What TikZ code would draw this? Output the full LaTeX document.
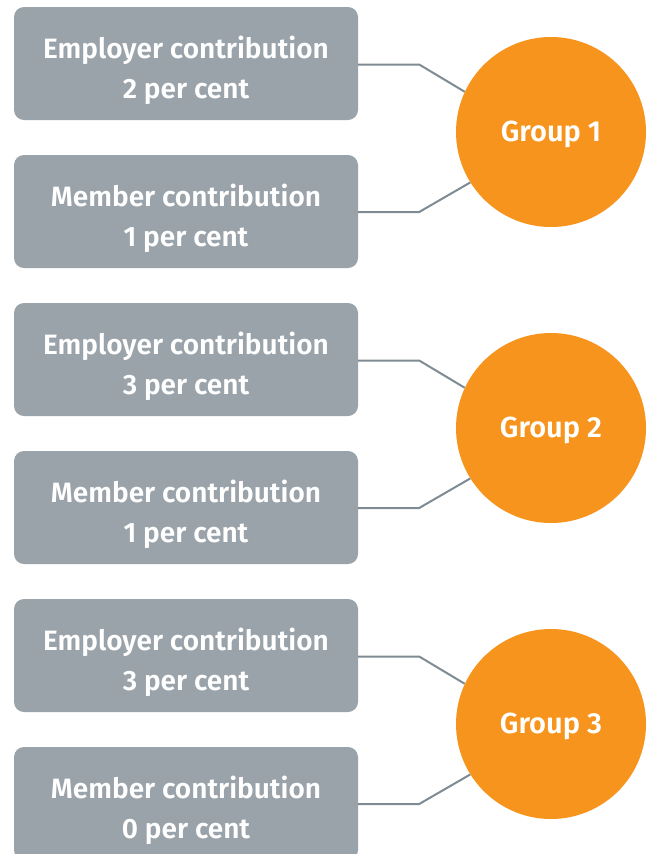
\documentclass[tikz,border=0pt]{standalone}
\usepackage{fontspec}
\setmainfont{Fira Sans}[BoldFont={* SemiBold}]
\definecolor{boxgray}{HTML}{9AA3A9}
\definecolor{linegray}{HTML}{7E8B93}
\definecolor{grouporange}{HTML}{F7941D}
\tikzset{
  contrib/.style={fill=boxgray, rounded corners=10pt, minimum width=344pt, minimum height=113pt, inner sep=0pt},
  contribtext/.style={text=white, align=center, font=\fontsize{28}{40}\selectfont\bfseries, inner sep=0pt},
  groupnode/.style={circle, fill=grouporange, minimum size=190pt, inner sep=0pt},
  grouptext/.style={text=white, inner sep=0pt, font=\fontsize{29}{30}\selectfont\bfseries},
  link/.style={draw=linegray, line width=2pt}
}
\begin{document}
\begin{tikzpicture}[x=1pt,y=-1pt]
\useasboundingbox (0,0) rectangle (649,854);
\begin{scope}
\clip (0,0) rectangle (649,854);
\foreach \i/\ep/\mp in {1/2/1, 2/3/1, 3/3/0} {
  \pgfmathsetmacro{\off}{(\i-1)*296}
  \node[contrib] (e\i) at (186, 63.5+\off) {};
  \node[contribtext] (et\i) at ([yshift=-6.5pt]e\i.center) {\strut Employer contribution\\\strut \ep\ per cent};
  \node[contrib] (m\i) at (186, 211.5+\off) {};
  \node[contribtext] (mt\i) at ([yshift=-6.5pt]m\i.center) {\strut Member contribution\\\strut \mp\ per cent};
  \node[groupnode] (g\i) at (551, 132+\off) {};
  \node[grouptext] (gt\i) at ([yshift=-2pt]g\i.center) {Group \i};
  \draw[link] ([yshift=-1pt]e\i.east) -- ++(61,0) -- (g\i.155);
  \draw[link] ([yshift=-0.5pt]m\i.east) -- ++(61,0) -- (g\i.212);
}
\end{scope}
\end{tikzpicture}
\end{document}
